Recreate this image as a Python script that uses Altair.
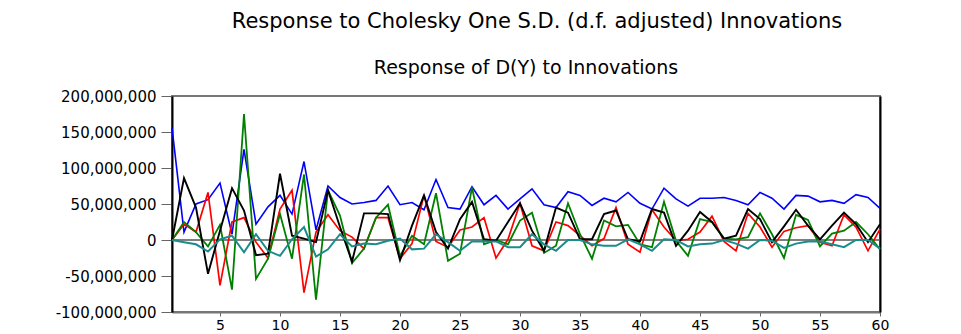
import altair as alt
import pandas as pd

periods = list(range(1, 61))

# responses in millions
blue_m = [156, 11, 50, 56, 79, 8, 126, 22, 46, 62,
          36, 109, 14, 75, 59, 50, 52, 55, 75, 49,
          52, 42, 84, 45, 43, 74, 49, 62, 43, 57,
          71, 49, 45, 67, 62, 48, 58, 53, 66, 51,
          43, 72, 57, 47, 58, 58, 59, 55, 49, 66,
          58, 43, 62, 61, 53, 55, 51, 63, 59, 44]
red_m = [0, 22, 11, 66, -63, 25, 31, -3, -25, 43,
         69, -73, 11, 35, 13, 4, -12, 31, 31, -26,
         -5, 62, -2, -10, 14, 18, 31, -25, 1, 51,
         -8, -15, 25, 20, 6, -8, 2, 45, -6, -17,
         42, 18, -1, 1, 11, 33, -2, -15, 37, 18,
         -10, 12, 17, 20, -3, -8, 35, 18, -15, 15]
green_m = [0, 25, 11, -9, 21, -69, 175, -54, -26, 36,
           -26, 91, -83, 69, 34, -32, -12, 31, 49, -22,
           6, -6, 65, -29, -19, 73, -6, 0, -6, 27,
           38, -18, -8, 51, 8, -26, 27, 19, 21, -6,
           -10, 53, -1, -22, 29, 25, 2, 1, 4, 37,
           8, -25, 35, 28, -9, 9, 13, 25, 8, -13]
black_m = [0, 86, 45, -47, 13, 72, 41, -21, -19, 92,
           6, 2, -3, 69, 18, -30, 37, 37, 36, -28,
           20, 62, 11, -12, 29, 53, 1, -1, 25, 51,
           13, -15, 45, 38, 1, 1, 36, 41, 1, -2,
           43, 38, -8, 13, 39, 25, 2, 6, 43, 29,
           -3, 19, 42, 20, 1, 20, 38, 22, -3, 22]
teal_m = [0, -3, -6, -16, 1, 6, -17, 8, -15, -22,
          1, 18, -23, -13, 8, -9, -5, -6, -1, 2,
          -13, -12, 8, -3, -15, -2, -2, -2, -10, -10,
          8, -6, -15, 0, 0, -6, -8, -8, 1, -6,
          -15, 1, 0, -9, -6, -5, 0, -5, -12, 0,
          -1, -11, -5, -2, -2, -6, -10, 0, 0, -12]

series_names = ["Shock 1", "Shock 2", "Shock 3", "Shock 4", "Shock 5"]
series_values = [blue_m, red_m, green_m, black_m, teal_m]
series_colors = ["#0000ff", "#ff0000", "#008000", "#000000", "#1a8c8c"]
series_widths = [1.6, 2, 2, 2, 1.5]

y_ticks = [-100_000_000, -50_000_000, 0, 50_000_000, 100_000_000, 150_000_000, 200_000_000]
x_ticks = [5, 10, 15, 20, 25, 30, 35, 40, 45, 50, 55, 60]

main_title = "Response to Cholesky One S.D. (d.f. adjusted) Innovations"
sub_title = "Response of D(Y) to Innovations"

rows = []
for name, vals in zip(series_names, series_values):
    for p, v in zip(periods, vals):
        rows.append({"period": p, "value": v * 1_000_000, "series": name})
df = pd.DataFrame(rows)

FONT = "DejaVu Sans"
x_scale = alt.Scale(domain=[1, 60], nice=False, zero=False)
y_scale = alt.Scale(domain=[-100_000_000, 200_000_000], nice=False, zero=False)

lines = alt.Chart(df).mark_line().encode(
    x=alt.X("period:Q", scale=x_scale,
            axis=alt.Axis(values=x_ticks, title=None, grid=False, tickSize=4,
                          tickColor="#666", domainColor="#777", domainWidth=2,
                          labelFont=FONT, labelFontSize=14, labelColor="black",
                          labelPadding=2, labelFlush=False)),
    y=alt.Y("value:Q", scale=y_scale,
            axis=alt.Axis(values=y_ticks, title=None, grid=False, tickSize=11,
                          tickColor="#666", domainColor="black", domainWidth=2,
                          labelFont=FONT, labelFontSize=15, labelColor="black",
                          labelPadding=5,
                          labelExpr="replace(format(datum.value, ',d'), '\u2212', '-')")),
    color=alt.Color("series:N", scale=alt.Scale(domain=series_names, range=series_colors), legend=None),
    strokeWidth=alt.StrokeWidth("series:N", scale=alt.Scale(domain=series_names, range=series_widths), legend=None),
)

zero = alt.Chart(pd.DataFrame({"zero": [0]})).mark_rule(color="#555", strokeWidth=1.5).encode(
    y=alt.Y("zero:Q", scale=y_scale,
            axis=alt.Axis(orient="right", labels=False, ticks=False, grid=False, title=None,
                          domainColor="black", domainWidth=2))
)

title_txt = alt.Chart(pd.DataFrame({"t": [main_title]})).mark_text(
    font=FONT, fontSize=21, color="black", align="center", baseline="alphabetic"
).encode(text="t:N", x=alt.value(365), y=alt.value(-68))

sub_txt = alt.Chart(pd.DataFrame({"t": [sub_title]})).mark_text(
    font=FONT, fontSize=19, color="black", align="center", baseline="alphabetic"
).encode(text="t:N", x=alt.value(354), y=alt.value(-22))

chart = alt.layer(zero, lines, title_txt, sub_txt).resolve_axis(y="independent").properties(
    width=708, height=216,
    padding={"left": 164, "top": 88, "right": 60, "bottom": 22},
    autosize=alt.AutoSizeParams(type="none"),
).configure_view(stroke="#777", strokeWidth=2)

chart.save("out.html", embed_options={"renderer": "svg", "actions": False})
